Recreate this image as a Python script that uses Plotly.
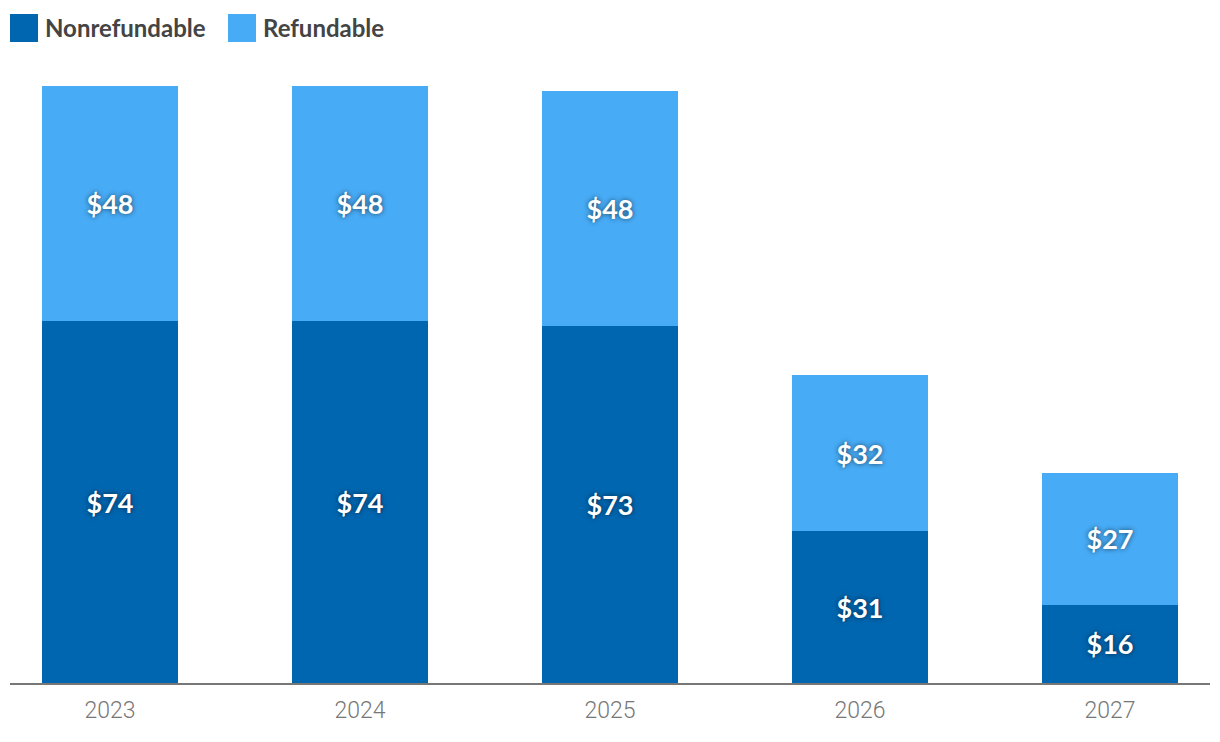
import plotly.graph_objects as go

years = ["2023", "2024", "2025", "2026", "2027"]
nonrefundable = [74, 74, 73, 31, 16]
refundable = [48, 48, 48, 32, 27]
series_names = ["Nonrefundable", "Refundable"]
colors = ["#0066B0", "#47ABF5"]

label_font = dict(family="Lato", size=27, color="white",
                  shadow="0px 0px 5px rgba(0,0,0,0.6)", weight="bold")

fig = go.Figure()
for name, vals, col in zip(series_names, [nonrefundable, refundable], colors):
    fig.add_trace(go.Bar(
        x=years, y=vals, name=name, marker=dict(color=col, line=dict(width=0)),
        text=[f"${v}" for v in vals], textposition="inside",
        insidetextanchor="middle", textfont=label_font, width=0.544,
        textangle=0, cliponaxis=False,
    ))

fig.update_layout(
    barmode="stack",
    width=1220, height=742,
    margin=dict(l=2, r=18, t=52, b=67),
    plot_bgcolor="white", paper_bgcolor="white",
    showlegend=False,
    font=dict(family="Lato"),
    xaxis=dict(range=[-0.4, 4.4], showline=True, linecolor="#777777", linewidth=2,
               ticks="", tickfont=dict(family="Roboto", size=23, color="#777777", weight=300),
               ticklabelstandoff=5, showgrid=False, fixedrange=True),
    yaxis=dict(range=[0, 127.4], visible=False, showgrid=False, zeroline=False),
)

# legend drawn manually to match large square swatches
legend_x = [10, 228]
for i, (name, col) in enumerate(zip(series_names, colors)):
    x0 = legend_x[i]
    fig.add_shape(type="rect", xref="paper", yref="paper",
                  x0=(x0 - 10) / 1200, x1=(x0 + 18) / 1200,
                  y0=(683 - 42) / 623, y1=(683 - 14) / 623,
                  line=dict(width=0), fillcolor=col)
    fig.add_annotation(text=name, xref="paper", yref="paper",
                       x=(x0 + 23) / 1200, y=(683 - 28) / 623,
                       xanchor="left", yanchor="middle", showarrow=False,
                       font=dict(family="Lato", size=24, color="#444444", weight="bold"))

fig.write_html("out.html")
